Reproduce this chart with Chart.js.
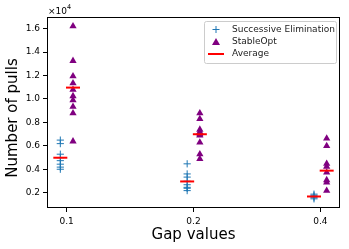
<!DOCTYPE html>
<html lang="en">
<head>
    <meta charset="UTF-8">
    <title>Number of pulls vs gap</title>
    <script src="https://cdn.jsdelivr.net/npm/chart.js"></script>
    <style>
        html, body { margin: 0; padding: 0; background: #fff; }
        canvas { display: block; }
    </style>
</head>
<body>
    <canvas id="chartCanvas" width="349" height="249"></canvas>

    <script>
        // Gap values (categories on the x axis)
        const gapLabels = ['0.1', '0.2', '0.4'];

        // Number of pulls per run
        const seRuns = [
            [6500, 6200, 5300, 5000, 4750, 4450, 4200, 4020],
            [4480, 3620, 3350, 3000, 2700, 2480, 2400, 2200],
            [1900, 1800, 1700, 1600, 1500]
        ];
        const soRuns = [
            [16200, 13250, 11950, 11350, 10800, 10250, 9900, 9350, 8800, 6400],
            [8800, 8300, 7400, 7200, 7000, 6900, 6300, 5300, 4900],
            [6650, 6000, 4500, 4250, 3750, 3100, 2900, 2200]
        ];

        // Averages (red bars)
        const seAverage = [5000, 2980, 1700];
        const soAverage = [10970, 7000, 3900];

        const yTicks = [2000, 4000, 6000, 8000, 10000, 12000, 14000, 16000];

        const seColor = '#1f77b4';
        const soColor = '#800080';
        const avgColor = '#ff0000';

        function points(groups, offset) {
            const out = [];
            groups.forEach((vals, i) => vals.forEach(v => out.push({ x: i + offset, y: v })));
            return out;
        }

        const avgPoints = [];
        gapLabels.forEach((_, i) => {
            avgPoints.push({ x: i - 0.05, y: seAverage[i] });
            avgPoints.push({ x: i + 0.05, y: soAverage[i] });
        });

        // frame, y label, offset text and legend box like matplotlib
        const decorations = {
            id: 'decorations',
            afterDraw(chart) {
                const ctx = chart.ctx;
                const a = chart.chartArea;
                ctx.save();
                ctx.strokeStyle = '#000';
                ctx.lineWidth = 1;
                ctx.strokeRect(Math.round(a.left) + 0.5, Math.round(a.top) + 0.5,
                    Math.round(a.right - a.left) - 1, Math.round(a.bottom - a.top) - 1);

                // y axis label
                ctx.save();
                ctx.translate(13, 118);
                ctx.rotate(-Math.PI / 2);
                ctx.fillStyle = '#000';
                ctx.font = '15px "DejaVu Sans"';
                ctx.textAlign = 'center';
                ctx.textBaseline = 'middle';
                ctx.fillText('Number of pulls', 0, 0);
                ctx.restore();

                // offset text x10^4
                ctx.fillStyle = '#000';
                ctx.textBaseline = 'alphabetic';
                ctx.font = '9px "DejaVu Sans"';
                const ox = a.left + 1;
                ctx.fillText('\u00d710', ox, 14);
                const w = ctx.measureText('\u00d710').width;
                ctx.font = '6.5px "DejaVu Sans"';
                ctx.fillText('4', ox + w, 9);

                // legend
                const lx = a.right - 136, ly = a.top + 4, lw = 132, lh = 42;
                ctx.beginPath();
                ctx.roundRect(lx + 0.5, ly + 0.5, lw, lh, 2);
                ctx.fillStyle = 'rgba(255,255,255,0.8)';
                ctx.fill();
                ctx.strokeStyle = '#cccccc';
                ctx.lineWidth = 1;
                ctx.stroke();

                const mx = lx + 12, tx = lx + 28;
                const rows = [ly + 8.5, ly + 21, ly + 33];
                // plus
                ctx.strokeStyle = seColor;
                ctx.beginPath();
                ctx.moveTo(mx - 3.5, rows[0]); ctx.lineTo(mx + 3.5, rows[0]);
                ctx.moveTo(mx, rows[0] - 3.5); ctx.lineTo(mx, rows[0] + 3.5);
                ctx.stroke();
                // triangle
                ctx.fillStyle = soColor;
                ctx.beginPath();
                ctx.moveTo(mx, rows[1] - 4);
                ctx.lineTo(mx + 4, rows[1] + 3);
                ctx.lineTo(mx - 4, rows[1] + 3);
                ctx.closePath();
                ctx.fill();
                // red line
                ctx.strokeStyle = avgColor;
                ctx.lineWidth = 2;
                ctx.beginPath();
                ctx.moveTo(mx - 8, rows[2]); ctx.lineTo(mx + 8, rows[2]);
                ctx.stroke();

                ctx.fillStyle = '#222';
                ctx.font = '9px "DejaVu Sans"';
                ctx.textBaseline = 'middle';
                ['Successive Elimination', 'StableOpt', 'Average'].forEach((t, i) => {
                    ctx.fillText(t, tx, rows[i]);
                });
                ctx.restore();
            }
        };

        const ctx = document.getElementById('chartCanvas').getContext('2d');
        new Chart(ctx, {
            type: 'scatter',
            data: {
                datasets: [{
                    label: 'Average',
                    data: avgPoints,
                    pointStyle: 'line',
                    pointRadius: 7,
                    borderColor: avgColor,
                    borderWidth: 2,
                    order: 1
                }, {
                    label: 'StableOpt',
                    data: points(soRuns, 0.05),
                    pointStyle: 'triangle',
                    pointRadius: 4.2,
                    backgroundColor: soColor,
                    borderColor: soColor,
                    borderWidth: 0,
                    order: 2
                }, {
                    label: 'Successive Elimination',
                    data: points(seRuns, -0.05),
                    pointStyle: 'cross',
                    pointRadius: 3.6,
                    borderColor: seColor,
                    borderWidth: 1,
                    order: 3
                }]
            },
            options: {
                responsive: false,
                animation: false,
                devicePixelRatio: 1,
                layout: { padding: { top: 17, right: 7, left: 0, bottom: 0 } },
                plugins: {
                    legend: { display: false },
                    tooltip: { enabled: false }
                },
                scales: {
                    x: {
                        type: 'linear',
                        min: -0.155,
                        max: 2.155,
                        afterBuildTicks: s => { s.ticks = [0, 1, 2].map(v => ({ value: v })); },
                        afterFit: s => { s.height = 41; },
                        grid: { drawOnChartArea: false, drawTicks: true, tickLength: 4, color: '#000' },
                        border: { display: false },
                        ticks: {
                            callback: (v, i) => gapLabels[i],
                            color: '#000',
                            padding: 4,
                            maxRotation: 0,
                            font: { family: 'DejaVu Sans', size: 9 }
                        },
                        title: {
                            display: true,
                            text: 'Gap values',
                            color: '#000',
                            padding: { top: 0, bottom: 5 },
                            font: { family: 'DejaVu Sans', size: 15 }
                        }
                    },
                    y: {
                        min: 720,
                        max: 16980,
                        afterBuildTicks: s => { s.ticks = yTicks.map(v => ({ value: v })); },
                        afterFit: s => { s.width = 47; },
                        grid: { drawOnChartArea: false, drawTicks: true, tickLength: 4, color: '#000' },
                        border: { display: false },
                        ticks: {
                            callback: v => (v / 10000).toFixed(1),
                            color: '#000',
                            padding: 3,
                            font: { family: 'DejaVu Sans', size: 9 }
                        }
                    }
                }
            },
            plugins: [decorations]
        });
    </script>
</body>
</html>
